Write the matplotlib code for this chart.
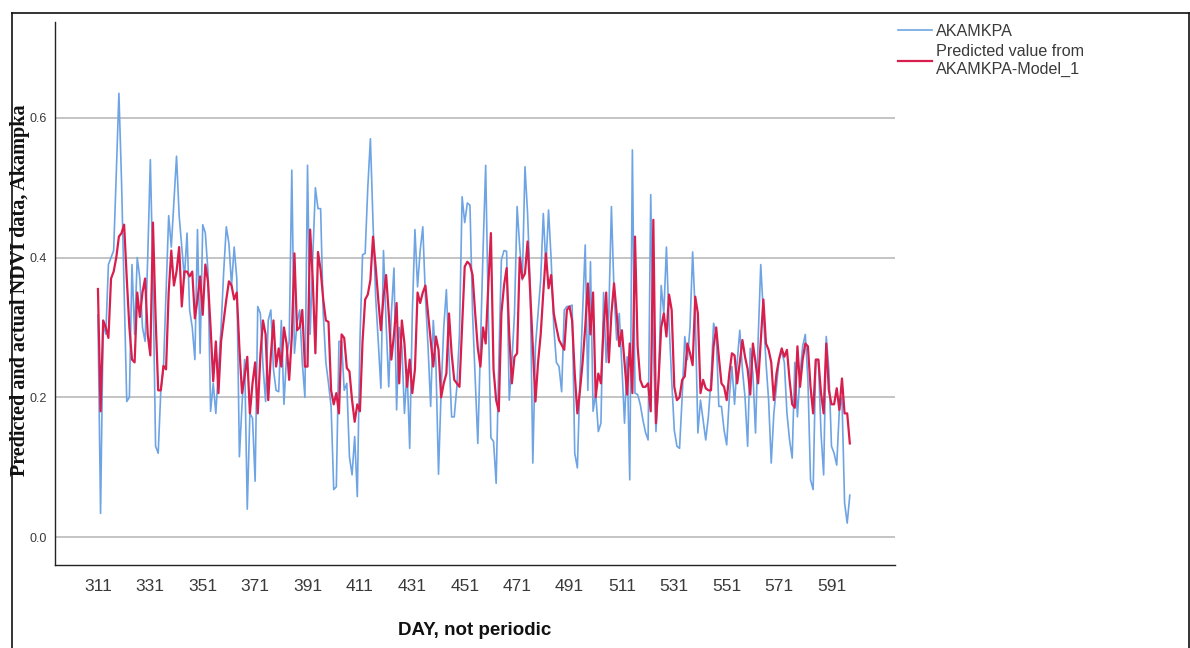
import numpy as np
import matplotlib
matplotlib.use("Agg")
import matplotlib.pyplot as plt
from matplotlib.lines import Line2D

# NDVI at Akampka, actual series and Model_1 predictions, one value per day
start_day = 311

akamkpa = [
    0.318, 0.034, 0.306, 0.29, 0.39, 0.40, 0.41, 0.52, 0.635, 0.51,
    0.35, 0.194, 0.20, 0.39, 0.29, 0.40, 0.37, 0.30, 0.28, 0.40,
    0.54, 0.37, 0.13, 0.12, 0.21, 0.24, 0.35, 0.46, 0.415, 0.48,
    0.545, 0.46, 0.415, 0.37, 0.435, 0.325, 0.30, 0.254, 0.44, 0.263,
    0.447, 0.435, 0.38, 0.18, 0.22, 0.177, 0.24, 0.30, 0.38, 0.444,
    0.42, 0.36, 0.415, 0.37, 0.115, 0.19, 0.254, 0.04, 0.177, 0.17,
    0.08, 0.33, 0.32, 0.245, 0.194, 0.31, 0.325, 0.24, 0.21, 0.208,
    0.31, 0.19, 0.26, 0.28, 0.525, 0.263, 0.306, 0.325, 0.25, 0.20,
    0.532, 0.29, 0.40, 0.50, 0.47, 0.47, 0.32, 0.25, 0.22, 0.187,
    0.068, 0.072, 0.28, 0.28, 0.21, 0.22, 0.115, 0.089, 0.144, 0.058,
    0.28, 0.404, 0.406, 0.50, 0.57, 0.45, 0.344, 0.28, 0.213, 0.41,
    0.306, 0.215, 0.32, 0.385, 0.182, 0.30, 0.273, 0.177, 0.24, 0.127,
    0.32, 0.44, 0.358, 0.41, 0.444, 0.344, 0.273, 0.187, 0.31, 0.25,
    0.09, 0.21, 0.30, 0.354, 0.26, 0.172, 0.172, 0.215, 0.29, 0.487,
    0.45, 0.478, 0.475, 0.32, 0.225, 0.134, 0.273, 0.41, 0.532, 0.32,
    0.142, 0.137, 0.077, 0.25, 0.397, 0.41, 0.409, 0.196, 0.25, 0.32,
    0.473, 0.415, 0.368, 0.53, 0.463, 0.358, 0.106, 0.273, 0.32, 0.368,
    0.463, 0.387, 0.468, 0.397, 0.30, 0.25, 0.244, 0.208, 0.325, 0.33,
    0.33, 0.332, 0.12, 0.099, 0.225, 0.32, 0.418, 0.21, 0.394, 0.18,
    0.206, 0.151, 0.163, 0.35, 0.25, 0.32, 0.473, 0.35, 0.282, 0.32,
    0.244, 0.163, 0.258, 0.082, 0.554, 0.206, 0.204, 0.19, 0.168, 0.15,
    0.139, 0.49, 0.273, 0.151, 0.225, 0.36, 0.32, 0.415, 0.306, 0.225,
    0.153, 0.13, 0.127, 0.2, 0.287, 0.254, 0.30, 0.408, 0.32, 0.149,
    0.196, 0.168, 0.139, 0.172, 0.225, 0.306, 0.29, 0.187, 0.187, 0.153,
    0.132, 0.2, 0.244, 0.19, 0.25, 0.296, 0.24, 0.2, 0.13, 0.27,
    0.234, 0.149, 0.282, 0.39, 0.32, 0.25, 0.196, 0.106, 0.177, 0.215,
    0.254, 0.266, 0.25, 0.177, 0.139, 0.113, 0.25, 0.172, 0.234, 0.273,
    0.29, 0.225, 0.082, 0.068, 0.254, 0.254, 0.149, 0.089, 0.287, 0.24,
    0.13, 0.12, 0.103, 0.182, 0.2, 0.049, 0.02, 0.06,
]

predicted_model_1 = [
    0.355, 0.18, 0.31, 0.30, 0.285, 0.37, 0.38, 0.40, 0.43, 0.435,
    0.447, 0.37, 0.30, 0.254, 0.25, 0.35, 0.315, 0.35, 0.37, 0.29,
    0.26, 0.45, 0.315, 0.21, 0.21, 0.245, 0.24, 0.35, 0.41, 0.36,
    0.38, 0.415, 0.33, 0.38, 0.38, 0.373, 0.38, 0.313, 0.34, 0.373,
    0.318, 0.39, 0.366, 0.30, 0.223, 0.28, 0.206, 0.28, 0.31, 0.34,
    0.366, 0.36, 0.34, 0.35, 0.27, 0.206, 0.23, 0.258, 0.177, 0.22,
    0.25, 0.177, 0.26, 0.31, 0.29, 0.196, 0.26, 0.31, 0.244, 0.27,
    0.244, 0.30, 0.277, 0.225, 0.287, 0.406, 0.296, 0.30, 0.325, 0.244,
    0.244, 0.44, 0.368, 0.263, 0.408, 0.382, 0.34, 0.31, 0.308, 0.21,
    0.19, 0.206, 0.177, 0.29, 0.285, 0.242, 0.237, 0.196, 0.165, 0.19,
    0.18, 0.28, 0.34, 0.347, 0.368, 0.43, 0.387, 0.34, 0.296, 0.344,
    0.375, 0.32, 0.254, 0.29, 0.335, 0.22, 0.31, 0.277, 0.215, 0.254,
    0.206, 0.24, 0.35, 0.335, 0.35, 0.36, 0.32, 0.282, 0.244, 0.287,
    0.268, 0.2, 0.22, 0.234, 0.32, 0.263, 0.225, 0.22, 0.215, 0.30,
    0.387, 0.394, 0.39, 0.375, 0.32, 0.27, 0.244, 0.30, 0.277, 0.36,
    0.435, 0.24, 0.196, 0.18, 0.32, 0.36, 0.385, 0.29, 0.22, 0.258,
    0.263, 0.40, 0.37, 0.377, 0.423, 0.35, 0.273, 0.194, 0.25, 0.29,
    0.35, 0.406, 0.356, 0.375, 0.32, 0.30, 0.282, 0.275, 0.268, 0.325,
    0.33, 0.31, 0.234, 0.177, 0.21, 0.25, 0.30, 0.363, 0.29, 0.35,
    0.2, 0.234, 0.22, 0.30, 0.35, 0.25, 0.32, 0.363, 0.32, 0.273,
    0.296, 0.25, 0.204, 0.277, 0.206, 0.43, 0.273, 0.225, 0.215, 0.215,
    0.22, 0.18, 0.454, 0.163, 0.225, 0.30, 0.32, 0.287, 0.347, 0.325,
    0.215, 0.196, 0.2, 0.225, 0.23, 0.277, 0.263, 0.246, 0.344, 0.32,
    0.206, 0.225, 0.213, 0.21, 0.21, 0.273, 0.30, 0.258, 0.22, 0.215,
    0.196, 0.234, 0.263, 0.26, 0.22, 0.25, 0.282, 0.258, 0.24, 0.204,
    0.277, 0.25, 0.22, 0.28, 0.34, 0.277, 0.268, 0.25, 0.196, 0.234,
    0.255, 0.27, 0.258, 0.268, 0.225, 0.19, 0.185, 0.273, 0.215, 0.254,
    0.277, 0.273, 0.215, 0.177, 0.254, 0.254, 0.206, 0.177, 0.277, 0.21,
    0.19, 0.19, 0.213, 0.182, 0.227, 0.177, 0.177, 0.134,
]

x_tick_days = [311, 331, 351, 371, 391, 411, 431, 451, 471, 491, 511, 531, 551, 571, 591]
y_ticks = [0.0, 0.2, 0.4, 0.6]

days = np.arange(start_day, start_day + len(akamkpa))

blue = "#6ea4e4"
red = "#d81e4c"
text_grey = "#3a3a3a"

fig = plt.figure(figsize=(11.9, 6.48), dpi=100)
ax = fig.add_axes([0.0462, 0.128, 0.7058, 0.838])

for v in y_ticks:
    ax.axhline(v, color="#c4c4c4", lw=1.4, zorder=0)

ax.plot(days, akamkpa, color=blue, lw=1.2, zorder=2, label="AKAMKPA")
ax.plot(days, predicted_model_1, color=red, lw=1.6, zorder=3,
        label="Predicted value from\nAKAMKPA-Model_1")

ax.set_xlim(294.6, 615.2)
ax.set_ylim(-0.04, 0.737)
ax.set_xticks(x_tick_days)
ax.set_xticklabels([str(d) for d in x_tick_days], fontsize=12.5,
                   color=text_grey, family="Liberation Sans")
ax.set_yticks(y_ticks)
ax.set_yticklabels([f"{v:.1f}" for v in y_ticks], fontsize=9,
                   color=text_grey, family="Liberation Sans")
ax.tick_params(axis="both", length=0)
ax.tick_params(axis="x", pad=10)
ax.tick_params(axis="y", pad=5.5)

for side in ("top", "right"):
    ax.spines[side].set_visible(False)
for side in ("left", "bottom"):
    ax.spines[side].set_color("#222222")
    ax.spines[side].set_linewidth(1.0)

ax.set_xlabel("DAY, not periodic", fontsize=13.5, fontweight="bold",
              family="Liberation Sans", color="#111111", labelpad=20)

# y-axis title placed in figure pixels so it sits between the frame and tick labels
fig.text(20 / 1190, 1 - 290 / 648, "Predicted and actual NDVI data, Akampka",
         rotation=90, ha="center", va="center", fontsize=14.5,
         fontweight="bold", family="Liberation Serif", color="#111111")

handles = [Line2D([], [], color=blue, lw=1.2), Line2D([], [], color=red, lw=1.6)]
leg = fig.legend(handles, ["AKAMKPA", "Predicted value from\nAKAMKPA-Model_1"],
                 loc="upper left", bbox_to_anchor=(898 / 1190, 1 - 24 / 648),
                 frameon=False, handlelength=2.1, handletextpad=0.28,
                 labelspacing=0.3, borderpad=0, borderaxespad=0,
                 prop={"family": "Liberation Sans", "size": 11.6})
for t in leg.get_texts():
    t.set_color(text_grey)
    t.set_linespacing(1.25)

# thin frame around the whole figure
frame_kw = dict(color="#111111", lw=1.2, transform=fig.transFigure)
fig.add_artist(Line2D([0.010, 0.999], [0.980, 0.980], **frame_kw))
fig.add_artist(Line2D([0.010, 0.010], [0.0, 0.980], **frame_kw))
fig.add_artist(Line2D([0.999, 0.999], [0.0, 0.980], **frame_kw))

fig.savefig("out.png", dpi=100)
